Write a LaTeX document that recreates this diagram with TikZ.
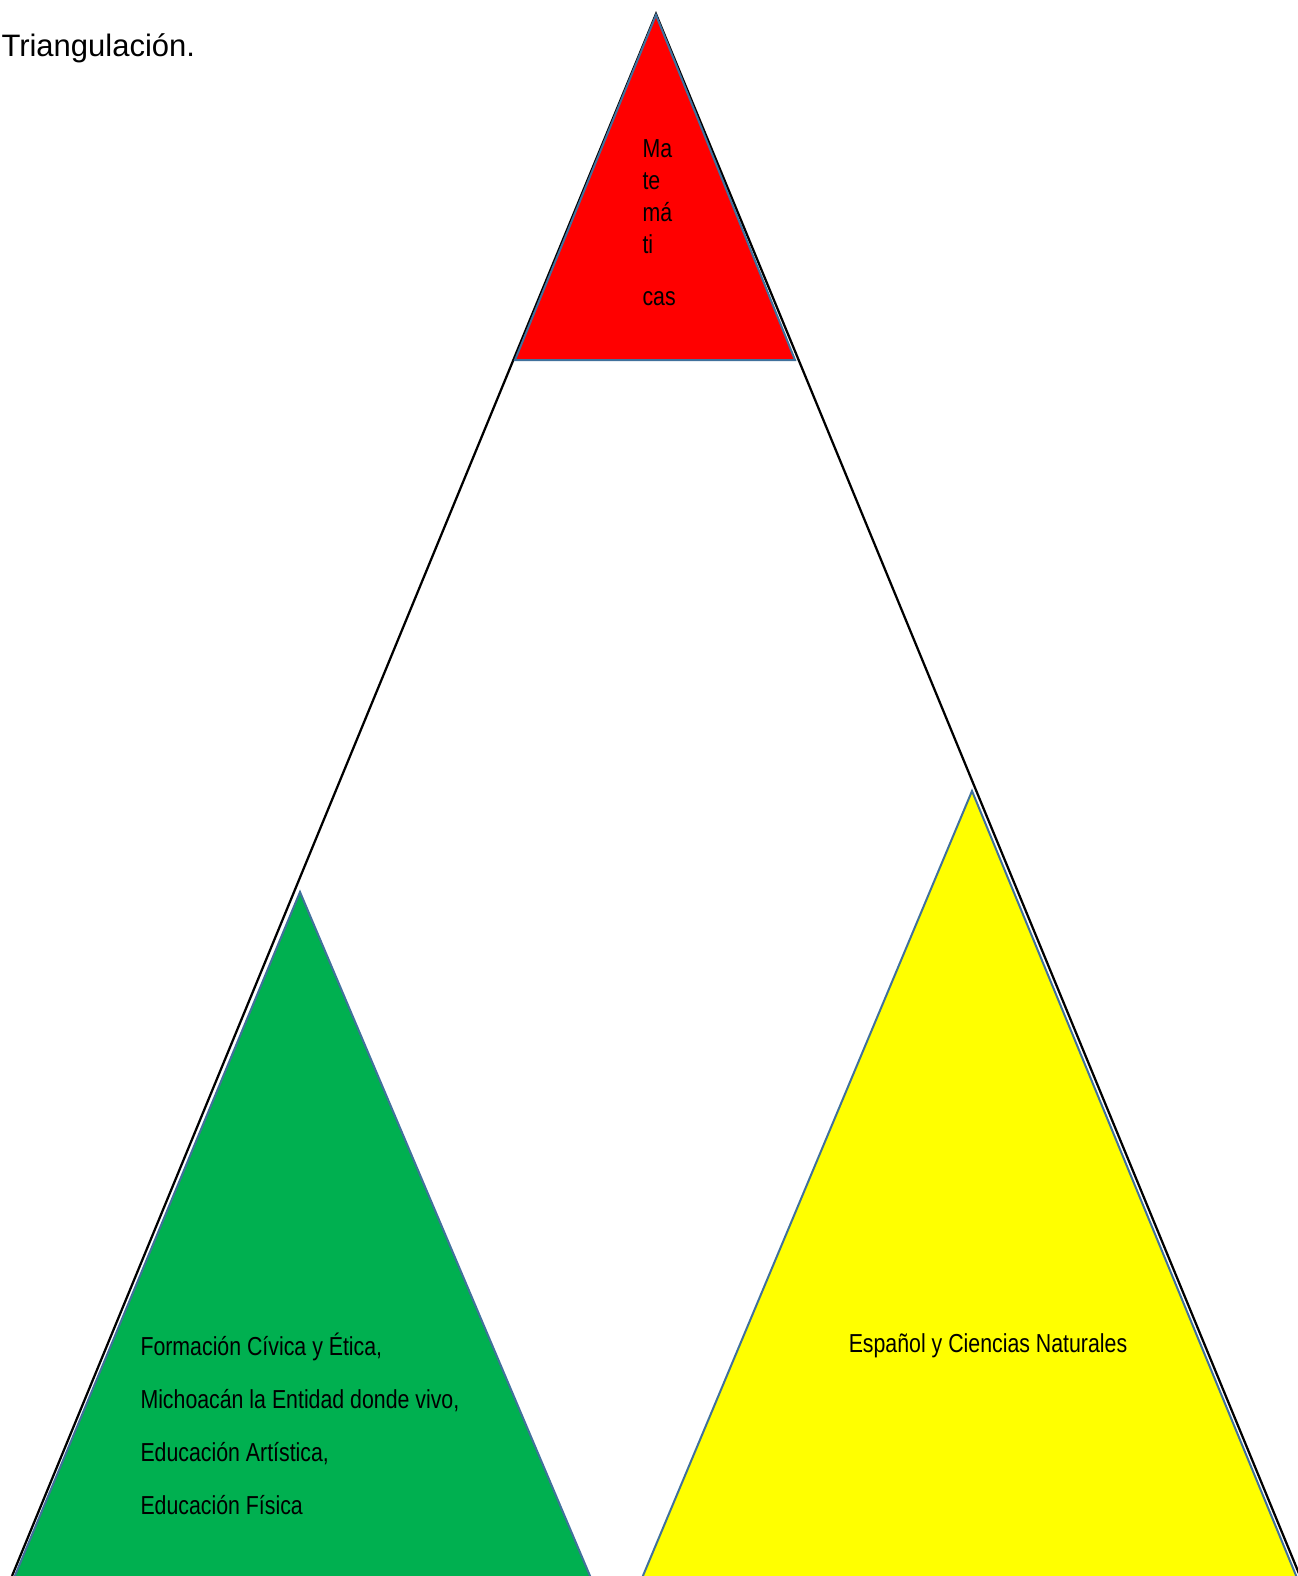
\documentclass[tikz,border=0pt]{standalone}
\usepackage{fontspec}
\setmainfont{Liberation Sans}
\newfontfamily\narrowfont[FakeStretch=0.82]{Liberation Sans}
\definecolor{edgeblue}{RGB}{65,113,156}
\definecolor{mathred}{RGB}{255,0,0}
\definecolor{civgreen}{RGB}{0,176,80}
\definecolor{espyellow}{RGB}{255,255,0}
\tikzset{
    subject/.style={draw=edgeblue, line width=0.8pt, line join=miter},
    frame/.style={draw=black, line width=0.9pt},
    label/.style={inner sep=0pt, anchor=base west, align=left,
        font=\narrowfont\fontsize{10.4}{12.8}\selectfont}
}
\begin{document}
\begin{tikzpicture}[x=0.4pt, y=-0.4pt]
    \useasboundingbox (0,0) rectangle (1298,1576);
    \clip (0,0) rectangle (1298,1576);

    % Vertices
    \coordinate (top) at (656,14);
    \coordinate (botleft) at (12,1576);
    \coordinate (botright) at (1300,1576);

    % Big triangle
    \draw [frame] (botleft) -- (top) -- (botright);

    % Subject triangles
    \filldraw [subject, fill=mathred] (656,15) -- (515,360) -- (795,360) -- cycle;
    \filldraw [subject, fill=civgreen] (300,892) -- (9,1590) -- (596,1590) -- cycle;
    \filldraw [subject, fill=espyellow] (972,791) -- (637,1590) -- (1302,1590) -- cycle;

    % Texts
    \node [anchor=base west, inner sep=0pt, font=\fontsize{12.4}{14}\selectfont] (title) at (1,56) {Triangulación.};
    \node [label] (mate) at (642,305) {Ma\\te\\má\\ti\\[8pt]cas};
    \node [label, font=\narrowfont\fontsize{10.4}{21.2}\selectfont] (civica) at (140,1514)
        {Formación Cívica y Ética,\\Michoacán la Entidad donde vivo,\\Educación Artística,\\Educación Física};
    \node [label, anchor=base] (espanol) at (988,1352) {Español y Ciencias Naturales};
\end{tikzpicture}
\end{document}
